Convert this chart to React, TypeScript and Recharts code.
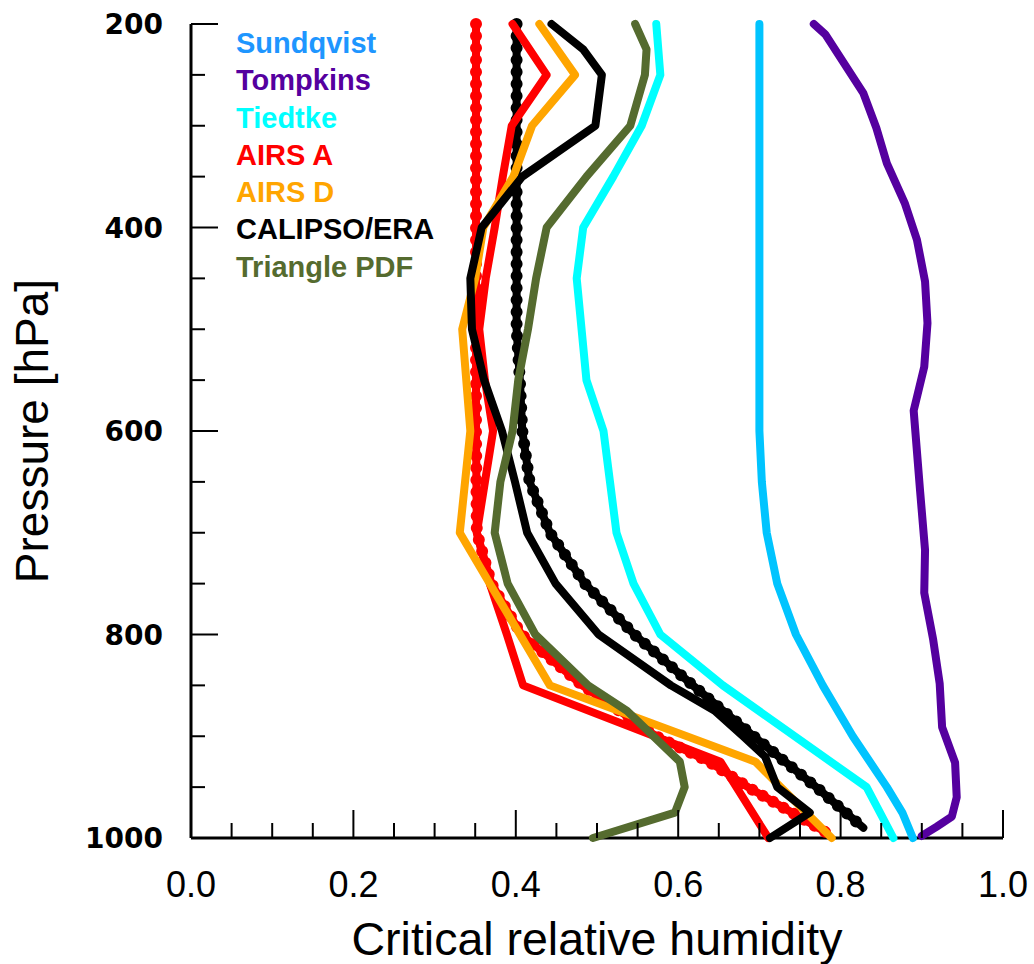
import { ScatterChart, Scatter, XAxis, YAxis, Legend } from "recharts";

// tick positions
const xTicks = [0, 0.05, 0.1, 0.15, 0.2, 0.25, 0.3, 0.35, 0.4, 0.45, 0.5, 0.55, 0.6, 0.65, 0.7, 0.75, 0.8, 0.85, 0.9, 0.95, 1.0];
const yTicks = [200, 250, 300, 350, 400, 450, 500, 550, 600, 650, 700, 750, 800, 850, 900, 950, 1000];

// profiles: pressure (hPa) and critical RH
const sundqvistP = [200, 250, 300, 350, 400, 450, 500, 550, 600, 650, 700, 750, 800, 850, 900, 950, 975, 1000];
const sundqvistRH = [0.7, 0.7, 0.7, 0.7, 0.7, 0.7, 0.7, 0.7, 0.7, 0.703, 0.709, 0.722, 0.745, 0.778, 0.815, 0.857, 0.876, 0.889];

const tompkinsP = [200, 210, 268, 302, 337, 376, 412, 453, 494, 537, 580, 660, 717, 759, 805, 848, 891, 926, 960, 979, 989, 998];
const tompkinsRH = [0.767, 0.781, 0.828, 0.844, 0.857, 0.879, 0.894, 0.904, 0.907, 0.903, 0.89, 0.898, 0.904, 0.903, 0.914, 0.922, 0.925, 0.941, 0.943, 0.937, 0.918, 0.9];

const tiedtkeP = [200, 250, 300, 350, 400, 450, 550, 600, 650, 700, 750, 800, 850, 950, 1000];
const tiedtkeRH = [0.573, 0.578, 0.555, 0.52, 0.483, 0.475, 0.487, 0.508, 0.516, 0.524, 0.545, 0.578, 0.655, 0.832, 0.865];

const airsAP = [200, 250, 300, 350, 400, 450, 500, 550, 600, 650, 700, 750, 800, 850, 925, 1000];
const airsARH = [0.396, 0.438, 0.395, 0.384, 0.374, 0.363, 0.355, 0.362, 0.372, 0.362, 0.352, 0.368, 0.389, 0.409, 0.652, 0.711];

const airsDP = [200, 250, 300, 350, 400, 450, 500, 600, 700, 850, 925, 1000];
const airsDRH = [0.429, 0.473, 0.42, 0.397, 0.36, 0.35, 0.334, 0.344, 0.331, 0.442, 0.695, 0.789];

const calipsoP = [200, 225, 250, 300, 350, 400, 450, 500, 550, 600, 650, 700, 750, 800, 850, 875, 900, 920, 950, 975, 1000];
const calipsoRH = [0.444, 0.483, 0.506, 0.498, 0.408, 0.358, 0.344, 0.346, 0.361, 0.383, 0.399, 0.414, 0.449, 0.502, 0.591, 0.645, 0.68, 0.707, 0.722, 0.762, 0.713];

const triangleP = [200, 225, 250, 300, 350, 400, 450, 500, 550, 600, 650, 700, 750, 800, 850, 875, 925, 950, 975, 1000];
const triangleRH = [0.547, 0.561, 0.559, 0.541, 0.487, 0.438, 0.425, 0.415, 0.403, 0.396, 0.381, 0.374, 0.39, 0.424, 0.489, 0.537, 0.602, 0.608, 0.596, 0.495];

// dotted profiles
const airsAFitP = [200, 300, 400, 500, 600, 700, 750, 800, 850, 900, 925, 950, 975, 995];
const airsAFitRH = [0.351, 0.351, 0.351, 0.351, 0.351, 0.352, 0.37, 0.407, 0.482, 0.573, 0.638, 0.686, 0.74, 0.783];

const calipsoFitP = [200, 300, 400, 500, 550, 600, 650, 700, 750, 800, 850, 900, 950, 990];
const calipsoFitRH = [0.401, 0.401, 0.401, 0.401, 0.405, 0.408, 0.417, 0.442, 0.485, 0.546, 0.618, 0.693, 0.77, 0.828];

const toPoints = (p: number[], rh: number[]) => p.map((v, i) => ({ p: v, rh: rh[i] }));

const solidSeries = [
  { name: "Sundqvist", color: "#00c4ff", text: "#1e96ff", data: toPoints(sundqvistP, sundqvistRH) },
  { name: "Tompkins", color: "#55009f", text: "#55009f", data: toPoints(tompkinsP, tompkinsRH) },
  { name: "Tiedtke", color: "#00ffff", text: "#00ffff", data: toPoints(tiedtkeP, tiedtkeRH) },
  { name: "AIRS A", color: "#ff0000", text: "#ff0000", data: toPoints(airsAP, airsARH) },
  { name: "AIRS D", color: "#ffa500", text: "#ffa500", data: toPoints(airsDP, airsDRH) },
  { name: "CALIPSO/ERA", color: "#000000", text: "#000000", data: toPoints(calipsoP, calipsoRH) },
  { name: "Triangle PDF", color: "#556b2f", text: "#556b2f", data: toPoints(triangleP, triangleRH) },
];

const dottedSeries = [
  { name: "AIRS A fit", color: "#ff0000", data: toPoints(airsAFitP, airsAFitRH) },
  { name: "CALIPSO fit", color: "#000000", data: toPoints(calipsoFitP, calipsoFitRH) },
];

const XTick = ({ x, y, payload }: any) => {
  const major = Math.round(payload.value * 100) % 20 === 0;
  return (
    <g>
      <line x1={x} x2={x} y1={y} y2={y - (major ? 28 : 15)} stroke="#000" strokeWidth={2} />
      {major && (
        <text x={x} y={y + 59} textAnchor="middle" fontFamily="Liberation Sans" fontSize={36} fill="#000">
          {payload.value.toFixed(1)}
        </text>
      )}
    </g>
  );
};

const YTick = ({ x, y, payload }: any) => {
  const major = payload.value % 200 === 0;
  return (
    <g>
      <line x1={x} x2={x + (major ? 27 : 14)} y1={y} y2={y} stroke="#000" strokeWidth={2} />
      {major && (
        <text x={x - 28} y={y + 10} textAnchor="end" fontFamily="DejaVu Sans" fontWeight="bold" fontSize={28} fill="#000">
          {payload.value}
        </text>
      )}
    </g>
  );
};

const XLabel = ({ viewBox }: any) => (
  <text x={viewBox.x + viewBox.width / 2} y={955} textAnchor="middle" fontFamily="Liberation Sans" fontSize={46.5} fill="#000">
    Critical relative humidity
  </text>
);

const YLabel = ({ viewBox }: any) => (
  <text
    transform={`translate(48,${viewBox.y + viewBox.height / 2}) rotate(-90)`}
    textAnchor="middle"
    fontFamily="Liberation Sans"
    fontSize={46}
    fill="#000"
  >
    Pressure [hPa]
  </text>
);

const LegendBox = () => (
  <div style={{ fontFamily: "Liberation Sans", fontWeight: "bold", fontSize: 29, lineHeight: "37.3px", whiteSpace: "nowrap" }}>
    {solidSeries.map((s) => (
      <div key={s.name} style={{ color: s.text }}>
        {s.name}
      </div>
    ))}
  </div>
);

const noShape = () => <g />;

export default function App() {
  return (
    <div style={{ position: "absolute", left: 0, top: 0, background: "#fff" }}>
      <ScatterChart width={1034} height={964} margin={{ top: 24, right: 31, bottom: 6, left: 41 }}>
        <XAxis
          type="number"
          dataKey="rh"
          domain={[0, 1]}
          ticks={xTicks}
          interval={0}
          tick={<XTick />}
          tickLine={false}
          tickSize={0}
          tickMargin={0}
          height={120}
          axisLine={{ stroke: "#000", strokeWidth: 3 }}
          label={{ content: <XLabel /> }}
        />
        <YAxis
          type="number"
          dataKey="p"
          domain={[200, 1000]}
          reversed
          ticks={yTicks}
          interval={0}
          tick={<YTick />}
          tickLine={false}
          tickSize={0}
          tickMargin={0}
          width={150}
          axisLine={{ stroke: "#000", strokeWidth: 3 }}
          label={{ content: <YLabel /> }}
        />
        {dottedSeries.map((s) => (
          <Scatter
            key={s.name + "-base"}
            name={s.name}
            data={s.data}
            fill={s.color}
            shape={noShape}
            line={{ stroke: s.color, strokeWidth: 8, strokeLinejoin: "round", strokeLinecap: "round" }}
            lineType="joint"
            legendType="none"
            isAnimationActive={false}
          />
        ))}
        {dottedSeries.map((s) => (
          <Scatter
            key={s.name + "-dots"}
            name={s.name + " dots"}
            data={s.data}
            fill={s.color}
            shape={noShape}
            line={{ stroke: s.color, strokeWidth: 12, strokeDasharray: "0 12", strokeLinecap: "round" }}
            lineType="joint"
            legendType="none"
            isAnimationActive={false}
          />
        ))}
        {solidSeries.map((s) => (
          <Scatter
            key={s.name}
            name={s.name}
            data={s.data}
            fill={s.color}
            shape={noShape}
            line={{ stroke: s.color, strokeWidth: 8, strokeLinejoin: "round", strokeLinecap: "round" }}
            lineType="joint"
            isAnimationActive={false}
          />
        ))}
        <Legend
          layout="vertical"
          align="center"
          verticalAlign="middle"
          wrapperStyle={{ left: 236, top: 25, width: "auto" }}
          content={<LegendBox />}
        />
      </ScatterChart>
    </div>
  );
}
